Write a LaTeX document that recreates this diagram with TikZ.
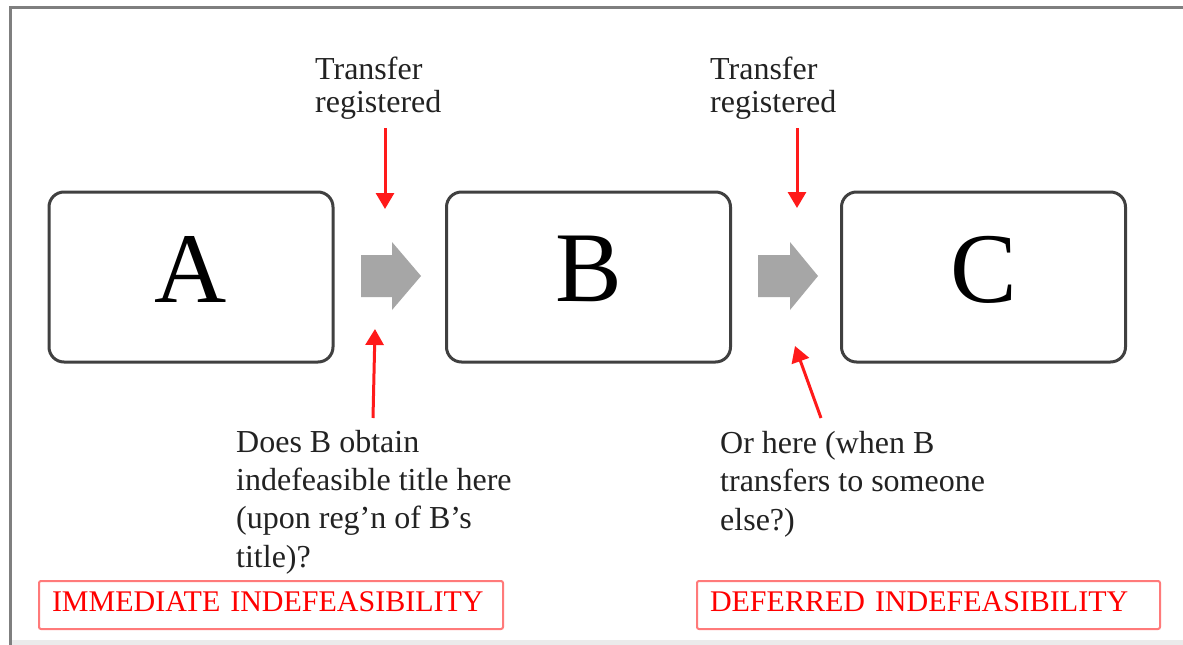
\documentclass[tikz,border=0pt]{standalone}
\usepackage{fontspec}
\setmainfont{Liberation Serif}
\usetikzlibrary{arrows.meta}
\definecolor{boxline}{HTML}{404040}
\definecolor{txt}{HTML}{222222}
\definecolor{redline}{HTML}{FF1A1A}
\definecolor{labline}{HTML}{FF7A7A}
\definecolor{arrowgray}{HTML}{A6A6A6}
\definecolor{framegray}{HTML}{7F7F7F}
\tikzset{
  partybox/.style={draw=boxline, line width=3pt, rounded corners=15pt,
    minimum width=284pt, minimum height=170pt, inner sep=0pt,
    font=\fontsize{100}{100}\selectfont, text=black, text depth=16pt},
  note/.style={inner sep=0pt, align=left, text=txt, anchor=base west},
  toptext/.style={note, font=\fontsize{32}{33}\selectfont},
  bottext/.style={note, font=\fontsize{32}{38.3}\selectfont},
  label/.style={draw=labline, line width=2pt, rounded corners=2pt, text=red,
    font=\fontsize{30}{30}\selectfont, inner xsep=13pt, align=left,
    minimum height=48pt, text depth=6pt},
  redarrow/.style={draw=redline, line width=3pt,
    -{Triangle[length=16pt,width=18pt]}},
  grayarrow/.style={fill=arrowgray}
}
\begin{document}
\begin{tikzpicture}[x=1pt,y=-1pt]
\useasboundingbox (0,0) rectangle (1183,645);
\fill[white] (0,0) rectangle (1183,645);
% frame
\fill[black!8] (10,640) rectangle (1183,645);
\draw[framegray, line width=2.5pt] (10.5,645) -- (10.5,7.5) -- (1183,7.5);
% party boxes
\node[partybox] (A) at (191,277) {A};
\node[partybox] (B) at (588.5,277) {B};
\node[partybox] (C) at (983.5,277) {C};
% gray transfer arrows
\fill[grayarrow] (361,255) -- (392,255) -- (392,242) -- (421,276) -- (392,310) -- (392,297) -- (361,297) -- cycle;
\fill[grayarrow] (758,255) -- (790,255) -- (790,242) -- (818,276) -- (790,310) -- (790,297) -- (758,297) -- cycle;
% texts (base anchor = last line)
\node[toptext] (t1) at (315,112) {Transfer\\registered};
\node[toptext] (t2) at (710,112) {Transfer\\registered};
\node[bottext] (q1) at (236,567) {Does B obtain\\indefeasible title here\\(upon reg’n of B’s\\title)?};
\node[bottext] (q2) at (720,530) {Or here (when B\\transfers to someone\\else?)};
% red arrows
\coordinate (r1s) at (385,128);
\coordinate (r1e) at (385,209);
\coordinate (r2s) at (797,128);
\coordinate (r2e) at (797,208);
\coordinate (r3s) at (373,418);
\coordinate (r3e) at (375,329);
\coordinate (r4s) at (821,418);
\coordinate (r4e) at (795,346);
\draw[redarrow] (r1s) -- (r1e);
\draw[redarrow] (r2s) -- (r2e);
\draw[redarrow] (r3s) -- (r3e);
\draw[redarrow] (r4s) -- (r4e);
% labels
\node[label, text width=438pt] (L1) at (271,605) {IMMEDIATE INDEFEASIBILITY};
\node[label, text width=437pt] (L2) at (928.5,605) {DEFERRED INDEFEASIBILITY};
\end{tikzpicture}
\end{document}
